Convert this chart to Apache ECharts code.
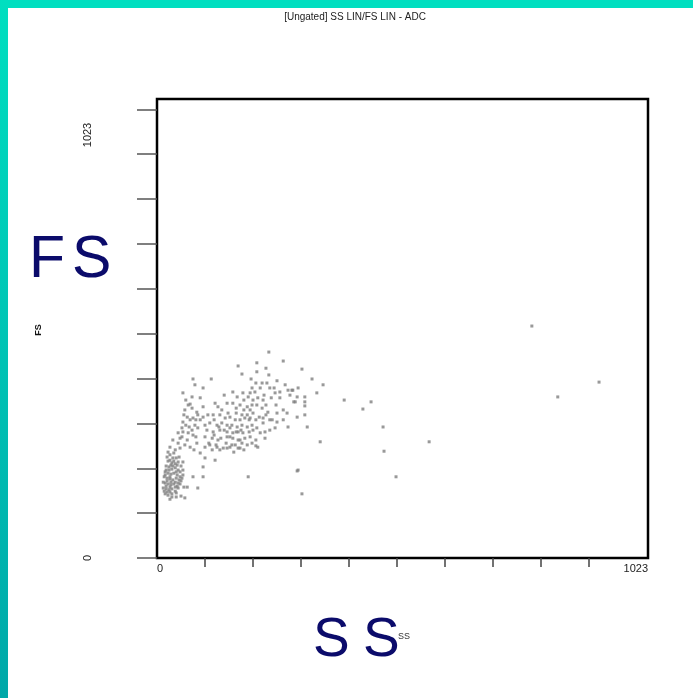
<!DOCTYPE html>
<html>
<head>
<meta charset="utf-8">
<script src="https://cdn.jsdelivr.net/npm/echarts@6/dist/echarts.min.js"></script>
<style>
  html, body { margin: 0; padding: 0; background: #fff; }
  #chart { width: 693px; height: 698px; }
</style>
</head>
<body>
<div id="chart"></div>
<script>
// Side scatter (SS) channel values, ADC units 0..1023
const ssChannel = [
  233,169,208,227,263,302,177,208,233,75,113,196,79,96,206,219,250,323,346,54,
  73,90,198,215,235,244,158,179,194,256,273,283,294,140,167,181,200,210,221,256,
  288,308,333,65,58,73,83,96,127,146,158,173,188,194,208,219,231,250,271,292,
  308,63,75,85,96,117,131,142,152,163,177,183,194,206,221,235,250,54,67,52,
  79,110,125,135,146,156,167,177,188,198,208,273,313,54,65,44,75,104,117,131,
  146,158,169,179,192,225,246,33,48,63,100,115,127,146,158,169,183,225,69,83,
  100,110,125,138,152,163,177,188,206,340,27,38,48,90,115,146,173,100,121,96,
  75,54,63,85,96,190,294,302,781,921,835,281,308,292,285,390,446,308,429,471,
  567,473,292,498,
  27,33,40,23,31,38,44,19,25,31,38,44,50,17,23,29,35,42,48,15,
  21,27,33,40,46,52,17,23,29,35,42,48,13,19,25,31,38,44,17,23,
  31,40,50,58,27,21,35,46,54,19,50,56,15,
  27,33,40,27,21,29,38,27,35,42,25,44,19,31,
  121,135,148,165,181,200,213,227,240,263,119,129,140,152,165,175,200,215,235,119,
  133,152,173,194,206,108,123,144,156,169,198,131,160,181,210,221,192,173,188,165,
  198,223,238,246,229,204,190,267,277,227,248,263,
  60,69,56,69,81,60,73,85,52,81,58,77,44,90,100,106,
  23,29,17,48,38,27,21,40,54,13
];

// Forward scatter (FS) channel values, paired with ssChannel
const fsChannel = [
  459,428,435,423,439,421,410,415,408,399,399,399,386,379,390,390,395,399,386,368,
  359,357,379,379,379,379,370,368,368,370,374,374,379,363,359,352,352,357,352,357,
  348,348,368,341,330,334,325,337,337,345,345,341,337,330,341,334,325,323,323,314,
  319,314,312,319,314,319,319,312,314,308,319,312,312,308,312,308,303,303,292,290,
  296,301,296,301,296,296,292,296,292,296,290,292,292,281,279,279,274,285,281,285,
  281,279,281,279,281,281,290,263,267,263,270,267,263,270,267,263,267,267,247,256,
  247,252,247,245,247,252,256,252,250,259,247,241,245,234,241,245,245,223,218,203,
  181,185,158,156,181,181,196,143,517,392,359,374,359,359,348,352,348,339,332,292,
  259,238,194,181,
  230,223,223,216,212,210,214,205,203,198,201,196,205,192,189,187,189,185,192,181,
  178,176,174,178,174,178,167,165,163,165,160,165,156,154,152,154,149,156,143,140,
  143,145,138,134,131,225,234,225,214,196,172,158,149,
  218,205,192,181,172,169,158,147,216,207,196,167,160,136,
  345,330,323,334,330,323,314,319,308,308,308,292,285,290,281,285,285,279,285,274,
  267,270,263,270,263,256,252,256,252,245,256,241,236,241,247,301,308,308,319,323,
  341,363,357,368,390,370,359,386,363,341,341,330,
  352,343,319,308,308,296,285,290,270,270,252,241,256,308,296,319,
  236,207,185,181,169,158,147,136,196,169
];

const axisMax = 1023;
const xTickValues = [100, 200, 300, 400, 500, 600, 700, 800, 900];
const yTickValues = [0, 100, 200, 300, 400, 500, 600, 700, 800, 900, 1000];
const xEndLabels = [0, 1023];
const yEndLabels = ['0', '1023'];
const plotTitle = '[Ungated] SS LIN/FS LIN - ADC';
const xName = 'SS';
const yName = 'FS';

const events = ssChannel.map((ss, i) => [ss, fsChannel[i]]);

const chart = echarts.init(document.getElementById('chart'), null, { renderer: 'canvas' });

const labelFont = 'Liberation Sans, Arial, sans-serif';
const bigColor = '#0b0b6b';

chart.setOption({
  animation: false,
  backgroundColor: '#ffffff',
  grid: {
    left: 157, top: 99, right: 45, bottom: 140,
    show: true, borderColor: '#000', borderWidth: 2.5, backgroundColor: 'transparent'
  },
  xAxis: {
    type: 'value', min: 0, max: axisMax,
    axisLine: { show: false },
    splitLine: { show: false },
    axisTick: {
      show: true, inside: false, length: 9,
      customValues: xTickValues,
      lineStyle: { color: '#444', width: 1.5 }
    },
    axisLabel: {
      show: true, customValues: xEndLabels, margin: 5,
      formatter: (v) => String(v),
      alignMinLabel: 'left', alignMaxLabel: 'right',
      color: '#222', fontSize: 11, fontFamily: labelFont
    }
  },
  yAxis: {
    type: 'value', min: 0, max: axisMax,
    axisLine: { show: false },
    splitLine: { show: false },
    axisTick: {
      show: true, inside: false, length: 20,
      customValues: yTickValues,
      lineStyle: { color: '#555', width: 1.5 }
    },
    axisLabel: { show: false }
  },
  series: [{
    type: 'scatter',
    data: events,
    symbol: 'rect',
    symbolSize: 3,
    itemStyle: { color: '#808080' },
    silent: true
  }],
  graphic: [
    // teal frame along the top and left edges
    {
      type: 'rect', left: 0, top: 0, z: -10,
      shape: { width: 693, height: 8 },
      style: { fill: '#00dfc0' }
    },
    {
      type: 'rect', left: 0, top: 0, z: -10,
      shape: { width: 8, height: 698 },
      style: {
        fill: new echarts.graphic.LinearGradient(0, 0, 0, 1, [
          { offset: 0, color: '#00dfc0' },
          { offset: 1, color: '#00a8a9' }
        ])
      }
    },
    {
      type: 'text', x: 355, y: 17,
      style: {
        text: plotTitle, fill: '#222', font: '10px ' + labelFont,
        textAlign: 'center', textVerticalAlign: 'middle'
      }
    },
    // end labels of the FS axis, rotated
    {
      type: 'text', x: 88, y: 558, rotation: Math.PI / 2,
      style: {
        text: yEndLabels[0], fill: '#222', font: '11px ' + labelFont,
        textAlign: 'center', textVerticalAlign: 'middle'
      }
    },
    {
      type: 'text', x: 88, y: 135, rotation: Math.PI / 2,
      style: {
        text: yEndLabels[1], fill: '#222', font: '11px ' + labelFont,
        textAlign: 'center', textVerticalAlign: 'middle'
      }
    },
    // small channel names
    {
      type: 'text', x: 39, y: 330, rotation: Math.PI / 2,
      style: {
        text: yName, fill: '#111', font: 'bold 9px ' + labelFont,
        textAlign: 'center', textVerticalAlign: 'middle'
      }
    },
    {
      type: 'text', x: 404, y: 637,
      style: {
        text: xName, fill: '#333', font: '9px ' + labelFont,
        textAlign: 'center', textVerticalAlign: 'middle'
      }
    },
    // large channel names
    {
      type: 'text', x: 29, y: 261,
      style: {
        text: yName[0], fill: bigColor, font: '59px ' + labelFont,
        textAlign: 'left', textVerticalAlign: 'middle'
      }
    },
    {
      type: 'text', x: 72, y: 261,
      style: {
        text: yName[1], fill: bigColor, font: '59px ' + labelFont,
        textAlign: 'left', textVerticalAlign: 'middle'
      }
    },
    {
      type: 'text', x: 313, y: 641,
      style: {
        text: xName[0], fill: bigColor, font: '55px ' + labelFont,
        textAlign: 'left', textVerticalAlign: 'middle'
      }
    },
    {
      type: 'text', x: 363, y: 641,
      style: {
        text: xName[1], fill: bigColor, font: '55px ' + labelFont,
        textAlign: 'left', textVerticalAlign: 'middle'
      }
    }
  ]
});
</script>
</body>
</html>
